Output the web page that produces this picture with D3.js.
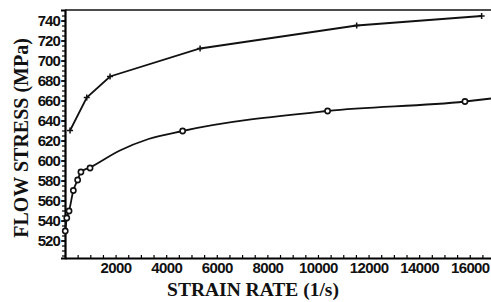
<!DOCTYPE html>
<html>
<head>
<meta charset="utf-8">
<script src="https://cdn.jsdelivr.net/npm/d3@7"></script>
<style>
  body { margin: 0; background: #fff; }
  .tick text { font-family: "Liberation Sans", Arial, sans-serif; font-weight: bold; }
  .title { font-family: "Liberation Serif", "Times New Roman", serif; font-weight: bold; }
</style>
</head>
<body>
<div id="chart"></div>
<script>
// upper curve (+ markers)
const upperRate = [200, 860, 1780, 5340, 11530, 16470];
const upperStress = [630, 663, 684, 712, 735, 744.5];

// lower curve (o markers)
const lowerRate = [10, 70, 160, 330, 500, 630, 990, 4650, 10380, 15810];
const lowerStress = [529.5, 542.5, 549.5, 570, 580.5, 588.5, 592.5, 629.5, 649.5, 659];

// smooth line drawn through the lower points (no markers)
const lowerLineRate = [10, 70, 160, 330, 500, 630, 990, 2170, 3300, 4650, 10380, 15810, 16840];
const lowerLineStress = [529.5, 542.5, 549.5, 570, 580.5, 588.5, 593, 610, 621.5, 629.5, 649.5, 659, 662];

const xTicks = [2000, 4000, 6000, 8000, 10000, 12000, 14000, 16000];
const yTicks = [520, 540, 560, 580, 600, 620, 640, 660, 680, 700, 720, 740];

const width = 491, height = 302;
const margin = { top: 10, right: 491, bottom: 258, left: 65 };

const svg = d3.select("#chart")
    .append("svg")
    .attr("width", width)
    .attr("height", height);

const x = d3.scaleLinear().domain([0, 16840]).range([margin.left, margin.right]);
const y = d3.scaleLinear().domain([502.5, 750.5]).range([margin.bottom, margin.top]);

// minor ticks
svg.append("g")
    .attr("transform", "translate(0," + margin.bottom + ")")
    .call(d3.axisTop(x).tickValues(d3.range(500, 16840, 500)).tickSize(3).tickFormat(""))
    .call(g => g.select(".domain").remove())
    .selectAll("line").attr("stroke-width", 1.2);

svg.append("g")
    .attr("transform", "translate(" + margin.left + ",0)")
    .call(d3.axisLeft(y).tickValues(d3.range(505, 750, 5)).tickSize(3).tickFormat(""))
    .call(g => g.select(".domain").remove())
    .selectAll("line").attr("stroke-width", 1.2);

// major axes
const xAxis = svg.append("g")
    .attr("transform", "translate(0," + margin.bottom + ")")
    .call(d3.axisBottom(x).tickValues(xTicks).tickSize(0).tickPadding(4).tickFormat(d3.format("d")));
xAxis.select(".domain").attr("stroke-width", 2.2);
xAxis.selectAll("text").attr("font-size", 15).attr("letter-spacing", -0.6).attr("fill", "#111");

const yAxis = svg.append("g")
    .attr("transform", "translate(" + margin.left + ",0)")
    .call(d3.axisLeft(y).tickValues(yTicks).tickSize(4).tickPadding(1));
yAxis.select(".domain").attr("stroke-width", 2.2);
yAxis.selectAll("line").attr("stroke-width", 1.5);
yAxis.selectAll("text").attr("font-size", 15).attr("letter-spacing", -0.9).attr("fill", "#111");

// top frame line
svg.append("line")
    .attr("x1", margin.left).attr("x2", margin.right)
    .attr("y1", margin.top).attr("y2", margin.top)
    .attr("stroke", "#111").attr("stroke-width", 1.6);

const upper = upperRate.map((r, i) => ({ r: r, s: upperStress[i] }));
const lower = lowerRate.map((r, i) => ({ r: r, s: lowerStress[i] }));
const lowerLine = lowerLineRate.map((r, i) => ({ r: r, s: lowerLineStress[i] }));

// upper series
svg.append("path")
    .datum(upper)
    .attr("fill", "none")
    .attr("stroke", "#111")
    .attr("stroke-width", 1.8)
    .attr("d", d3.line().x(d => x(d.r)).y(d => y(d.s)));

svg.selectAll(".plus")
    .data(upper)
    .enter()
    .append("path")
    .attr("class", "plus")
    .attr("transform", d => "translate(" + x(d.r) + "," + y(d.s) + ")")
    .attr("d", "M-3,0H3M0,-3V3")
    .attr("stroke", "#111")
    .attr("stroke-width", 1.5);

// lower series
svg.append("path")
    .datum(lowerLine)
    .attr("fill", "none")
    .attr("stroke", "#111")
    .attr("stroke-width", 1.8)
    .attr("d", d3.line().x(d => x(d.r)).y(d => y(d.s)).curve(d3.curveMonotoneX));

svg.selectAll(".dot")
    .data(lower)
    .enter()
    .append("circle")
    .attr("class", "dot")
    .attr("cx", d => x(d.r))
    .attr("cy", d => y(d.s))
    .attr("r", 2.6)
    .attr("fill", "#fff")
    .attr("stroke", "#111")
    .attr("stroke-width", 1.6);

// axis titles
svg.append("text")
    .attr("class", "title")
    .attr("x", 253)
    .attr("y", 296)
    .attr("text-anchor", "middle")
    .attr("font-size", 19.5)
    .attr("fill", "#111")
    .text("STRAIN RATE (1/s)");

svg.append("text")
    .attr("class", "title")
    .attr("transform", "translate(28,138) rotate(-90)")
    .attr("text-anchor", "middle")
    .attr("font-size", 20)
    .attr("fill", "#111")
    .text("FLOW STRESS (MPa)");
</script>
</body>
</html>
